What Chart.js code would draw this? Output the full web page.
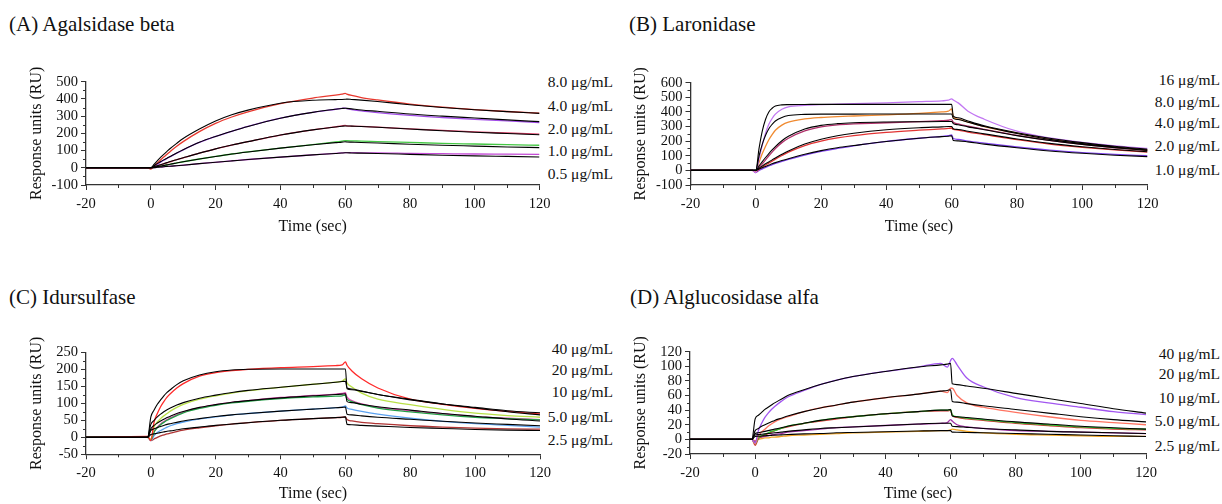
<!DOCTYPE html>
<html><head><meta charset="utf-8">
<script src="https://cdn.jsdelivr.net/npm/chart.js@4.4.0/dist/chart.umd.min.js"></script>
<style>
body{margin:0;background:#fff;width:1222px;height:504px;overflow:hidden;position:relative;font-family:"Liberation Serif","Times New Roman",serif;color:#111;}
canvas{position:absolute;}
.title{position:absolute;font-size:21px;white-space:nowrap;line-height:1;}
.conc{position:absolute;font-size:15.5px;white-space:nowrap;text-align:right;line-height:1;transform:translateY(-50%);}
</style></head><body>
<div class="title" style="left:9px;top:14px">(A) Agalsidase beta</div>
<div class="title" style="left:629px;top:14px">(B) Laronidase</div>
<div class="title" style="left:9px;top:287px">(C) Idursulfase</div>
<div class="title" style="left:630px;top:287px">(D) Alglucosidase alfa</div>
<div id="labels"></div>
<canvas id="cA" width="560" height="185" style="left:0;top:60px"></canvas>
<canvas id="cB" width="622" height="185" style="left:600px;top:60px"></canvas>
<canvas id="cC" width="560" height="174" style="left:0;top:330px"></canvas>
<canvas id="cD" width="622" height="174" style="left:600px;top:330px"></canvas>
<script>
// common time grid (sec)
const T = [-20,-1,0,1,2,3,4,5,6,8,10,15,20,25,30,40,50,57,59,60,60.5,62,65,70,80,90,100,110,120];

// (A) Agalsidase beta
const a8fit  = [0,0,0,20,40,60,78,95,112,142,170,225,272,308,335,375,392,396,397,398,399,397,393,385,366,350,337,326,316];
const a8data = [0,0,-8,10,28,45,62,78,95,125,152,210,258,295,325,372,405,422,428,432,428,420,408,394,370,352,338,327,318];
const a4fit  = [0,0,0,12,24,35,46,56,66,86,105,148,182,212,240,288,322,340,344,346,345,342,336,328,312,300,289,278,268];
const a4data = [0,0,-3,8,20,32,44,54,64,85,104,147,182,212,240,288,322,340,345,347,343,338,330,320,304,292,281,272,263];
const a2fit  = [0,0,0,6,12,18,24,30,36,47,58,85,110,132,152,190,220,237,241,243,243,242,240,235,225,215,206,199,192];
const a2data = [0,0,-3,5,11,17,23,29,35,47,58,85,110,132,152,190,220,238,243,246,244,242,240,236,226,217,208,202,196];
const a1fit  = [0,0,0,3,7,10,14,17,21,28,35,51,66,80,92,114,134,146,149,151,150,149,147,144,137,131,126,121,117];
const a1data = [0,0,-2,3,6,10,13,17,21,28,35,51,66,80,92,114,135,150,155,158,157,156,155,152,147,142,138,134,131];
const a05fit = [0,0,0,1,3,5,6,8,9,12,15,24,32,40,48,62,75,83,86,87,87,86,85,83,78,73,69,66,63];
const a05data= [0,0,-1,1,3,4,6,8,9,12,15,24,32,40,48,62,75,84,86,88,88,88,87,87,84,82,80,79,78];

// (B) Laronidase
const b16fit  = [0,0,0,150,270,350,400,425,440,448,450,451,452,452,452,452,452,452,452,452,372,360,338,305,258,220,190,165,145];
const b16data = [0,0,-15,80,175,255,315,355,385,418,435,445,450,453,456,462,470,476,480,490,482,462,405,350,268,222,192,168,150];
const b8fit   = [0,0,0,100,180,240,285,315,338,362,375,383,385,385,385,386,386,386,386,386,356,348,330,300,252,212,183,160,140];
const b8data  = [0,0,-10,55,115,165,210,245,275,310,330,352,362,368,372,380,390,400,405,420,365,350,330,300,255,215,185,160,140];
const b4fit   = [0,0,0,30,60,88,115,140,163,203,233,283,308,320,326,331,333,334,335,335,320,312,298,278,238,205,178,156,137];
const b4data  = [0,0,-10,20,45,72,100,125,150,190,220,270,298,312,318,326,333,340,343,347,330,318,302,280,240,206,178,155,135];
const b2fit   = [0,0,0,15,30,45,58,72,85,110,133,180,213,237,254,278,292,298,300,300,285,280,268,250,215,185,162,143,128];
const b2data  = [0,0,-10,8,22,37,50,63,77,102,125,170,200,222,238,260,275,284,287,290,280,276,262,245,210,180,158,140,125];
const b1fit   = [0,0,0,9,18,27,36,45,53,67,80,110,135,155,170,198,220,231,234,236,205,202,195,180,155,133,117,104,94];
const b1data  = [0,0,-15,0,10,20,30,40,48,62,75,105,130,150,168,198,220,233,238,242,218,212,200,186,160,138,122,110,100];

// (C) Idursulfase
const c40fit  = [0,0,60,80,97,110,122,132,140,155,166,183,193,198,200,201,201,201,201,201,143,140,135,126,110,98,88,78,72];
const c40data = [0,3,-10,45,70,90,105,118,128,145,158,180,190,196,200,205,208,211,213,222,212,195,172,145,112,97,85,76,69];
const c20fit  = [0,0,38,50,60,68,75,81,86,95,102,115,124,132,138,147,156,162,164,165,145,142,136,126,112,98,86,75,66];
const c20data = [0,0,-5,30,45,55,63,70,77,88,97,112,122,130,137,147,156,162,165,172,160,148,130,112,96,82,71,64,59];
const c10fit  = [0,0,25,35,42,48,53,58,62,70,76,88,96,103,108,116,122,126,127,128,105,102,97,90,80,70,62,54,48];
const c10green= [0,0,-8,15,28,37,44,50,55,64,72,85,94,101,106,114,119,121,122,124,112,105,96,86,75,66,59,55,51];
const c10pink = [0,0,-6,18,30,39,46,52,57,66,74,87,96,103,108,117,123,127,129,131,118,108,98,88,78,69,61,56,52];
const c5fit   = [0,0,20,25,29,32,35,38,40,44,48,55,61,66,70,77,83,87,88,89,68,66,63,59,53,47,42,38,34];
const c5data  = [0,0,-10,5,14,20,25,30,34,40,45,54,60,66,70,77,83,87,89,92,86,82,76,68,56,47,40,35,30];
const c25fit  = [0,0,8,10,12,14,16,18,19,22,25,30,35,39,43,50,55,58,59,60,38,37,35,33,29,26,23,21,20];
const c25data = [0,0,-10,-5,0,4,7,10,12,17,21,28,34,39,43,50,55,58,59,60,52,48,44,40,34,30,27,25,24];

// (D) Alglucosidase alfa
const d40fit  = [0,0,28,33,37,41,44,47,50,55,60,68,75,81,86,93,99,102,103,104,76,75,73,70,63,56,49,42,36];
const d40data = [0,0,-5,12,22,30,36,41,45,52,58,67,75,81,86,93,99,104,99,108,111,102,84,72,57,50,44,38,34];
const d20fit  = [0,0,12,15,18,20,22,24,26,29,32,38,43,47,51,57,62,66,67,68,52,51,49,46,41,36,31,27,24];
const d20data = [0,0,-6,5,10,14,18,21,24,28,31,38,43,47,51,57,62,66,64,70,70,60,50,44,37,31,26,23,20];
const d10fit  = [0,0,8,9,10,11,12,13,14,16,18,22,26,29,31,35,38,40,40,41,32,31,30,28,24,21,18,16,14];
const d10green= [0,0,-6,2,5,7,9,11,12,15,18,22,26,29,31,35,38,40,40,41,34,31,29,27,23,20,17,15,14];
const d10red  = [0,0,-8,1,4,6,8,10,12,15,17,22,25,28,31,35,38,39,39,40,33,30,28,26,22,19,16,14,13];
const d5fit   = [0,0,6,6.5,7,7.5,8,8.5,9,10,11,13,15,16,17,19,21,22,22,22,18,17.5,16.5,15,13,11,10,9,8];
const d5data  = [0,0,-3,2,3,4,5,6,7,8,10,12,14,16,17,19,21,22,23,27,25,20,17,15,12,11,10,9,8];
const d25fit  = [0,0,4,4.3,4.6,5,5.2,5.5,5.8,6.2,6.6,7.5,8,9,9.5,10.5,11.5,12,12,12,10,9.8,9.5,9,8,7,6,5,4];
const d25data = [0,0,-2,0,1,2,2,3,3,4,5,6,7,8,9,10,11,12,12,13,14,13,11,9,7,6,5,4,4];

// concentration labels
const concA = ['8.0 μg/mL','4.0 μg/mL','2.0 μg/mL','1.0 μg/mL','0.5 μg/mL'];
const concB = ['16 μg/mL','8.0 μg/mL','4.0 μg/mL','2.0 μg/mL','1.0 μg/mL'];
const concC = ['40 μg/mL','20 μg/mL','10 μg/mL','5.0 μg/mL','2.5 μg/mL'];
const concD = ['40 μg/mL','20 μg/mL','10 μg/mL','5.0 μg/mL','2.5 μg/mL'];

Chart.defaults.font.family = '"Liberation Serif","Times New Roman",serif';
Chart.defaults.color = '#111';

function placeLabels(texts, right, ys){
  const host = document.getElementById('labels');
  texts.forEach((t,i)=>{
    const d = document.createElement('div');
    d.className='conc'; d.textContent=t;
    d.style.right = (1222-right)+'px'; d.style.top = ys[i]+'px';
    host.appendChild(d);
  });
}
placeLabels(concA, 613, [82,105.5,128.5,151,174]);
placeLabels(concB, 1220, [79.5,101.5,122.5,146,170]);
placeLabels(concC, 613, [348.5,369.5,391.5,417,439.5]);
placeLabels(concD, 1220, [354,373.5,397.5,420.5,445.5]);

const minorTicks = {
  id:'minorTicks',
  afterDraw(chart, args, o){
    const {ctx, chartArea:a, scales:{x,y}} = chart;
    ctx.save(); ctx.strokeStyle='#333'; ctx.lineWidth=1; ctx.beginPath();
    for(let v=x.min+o.xm; v<x.max; v+=2*o.xm){ const p=Math.round(x.getPixelForValue(v))+0.5; ctx.moveTo(p,a.bottom); ctx.lineTo(p,a.bottom+3); }
    for(let v=y.min+o.ym; v<y.max; v+=2*o.ym){ const p=Math.round(y.getPixelForValue(v))+0.5; ctx.moveTo(a.left,p); ctx.lineTo(a.left-3,p); }
    ctx.stroke(); ctx.restore();
  }
};

function ds(vals, color, w){
  return {data: T.map((t,i)=>({x:t,y:vals[i]})), borderColor:color, borderWidth:w, pointRadius:0, cubicInterpolationMode:'monotone', fill:false};
}

function makeChart(id, o){
  const fits = o.fits.map(v=>ds(v,'#000',1.1));
  const data = o.data.map(([v,c])=>ds(v,c,1.3));
  new Chart(document.getElementById(id), {
    type:'line',
    data:{datasets: fits.concat(data)},
    options:{
      responsive:false, animation:false, devicePixelRatio:1,
      layout:{padding:{left:0, top:o.pt, right:o.pr, bottom:0}},
      plugins:{legend:{display:false}, tooltip:{enabled:false}, minorTicks:{xm:10, ym:o.ym}},
      scales:{
        x:{type:'linear', min:-20, max:120,
           ticks:{stepSize:20, font:{size:14.5}, color:'#111', padding:5, maxRotation:0, autoSkip:false},
           grid:{drawOnChartArea:false, drawTicks:true, tickLength:5, tickColor:'#333'},
           border:{color:'#333', width:1.3},
           title:{display:true, text:'Time (sec)', font:{size:16}, color:'#111', padding:{top:0,bottom:o.tb}},
           afterFit(s){ s.height = o.xh; }},
        y:{type:'linear', min:o.ymin, max:o.ymax,
           ticks:{stepSize:o.ystep, font:{size:14.5}, color:'#111', padding:3, autoSkip:false},
           grid:{drawOnChartArea:false, drawTicks:true, tickLength:5, tickColor:'#333'},
           border:{color:'#333', width:1.3},
           title:{display:true, text:'Response units (RU)', font:{size:16}, color:'#111', padding:{top:o.tt,bottom:0}},
           afterFit(s){ s.width = o.yw; }}
      }
    },
    plugins:[minorTicks]
  });
}

makeChart('cA', {pt:21.7, pr:20.5, xh:60, yw:86, tb:8.4, tt:27.4, ymin:-100, ymax:500, ystep:100, ym:50,
  fits:[a8fit,a4fit,a2fit,a1fit,a05fit],
  data:[[a8data,'#e8392f'],[a4data,'#a24de8'],[a2data,'#d93a62'],[a1data,'#45c845'],[a05data,'#c44ad6']]});
makeChart('cB', {pt:22.7, pr:74.5, xh:60, yw:90.5, tb:8.4, tt:31.4, ymin:-100, ymax:600, ystep:100, ym:50,
  fits:[b16fit,b8fit,b4fit,b2fit,b1fit],
  data:[[b16data,'#c277f2'],[b8data,'#f08a30'],[b4data,'#b0306a'],[b2data,'#e23434'],[b1data,'#8044f0']]});
makeChart('cC', {pt:22.3, pr:20, xh:49.7, yw:86, tb:0.5, tt:27.4, ymin:-50, ymax:250, ystep:50, ym:25,
  fits:[c40fit,c20fit,c10fit,c5fit,c25fit],
  data:[[c40data,'#ff2a2a'],[c20data,'#b9e048'],[c10green,'#22a046'],[c10pink,'#e044b0'],[c5data,'#5ca2f0'],[c25data,'#b03434']]});
makeChart('cD', {pt:21.7, pr:76, xh:50, yw:90, tb:0.5, tt:31.4, ymin:-20, ymax:120, ystep:20, ym:10,
  fits:[d40fit,d20fit,d10fit,d5fit,d25fit],
  data:[[d40data,'#a256f0'],[d20data,'#ff7462'],[d10green,'#34c034'],[d10red,'#d23434'],[d5data,'#a232a6'],[d25data,'#f0a424']]});
</script>
</body></html>
